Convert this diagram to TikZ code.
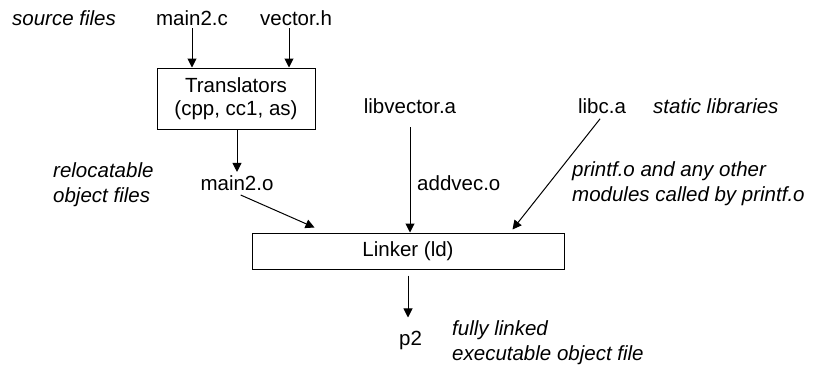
\documentclass[tikz,border=0pt]{standalone}
\usepackage{fontspec}
\setmainfont{Liberation Sans}
\usetikzlibrary{arrows.meta}

\begin{document}
\begin{tikzpicture}[x=1pt, y=-1pt,
            filenode/.style={anchor=base, inner sep=3pt, font=\fontsize{20.5}{23}\selectfont},
            notenode/.style={anchor=base west, align=left, inner sep=0pt, font=\fontsize{20.5}{25}\selectfont\itshape},
            toolbox/.style={draw, line width=1pt, align=center, inner sep=0pt, font=\fontsize{20.5}{23}\selectfont},
            flow/.style={line width=1pt, -{Triangle[length=9pt, width=9pt]}}
        ]
            \useasboundingbox (0,0) rectangle (814,367);

            % source files
            \node[notenode] (srcnote) at (12,25) {source files};
            \node[filenode] (mainc) at (192,25) {main2.c};
            \node[filenode] (vech) at (296,25) {vector.h};

            % translators
            \node[toolbox, minimum width=158pt, minimum height=61pt] (trans) at (236,98.5) {Translators\\(cpp, cc1, as)};
            \node[filenode] (maino) at (237,190) {main2.o};
            \node[notenode, anchor=west] (relnote) at (53,185) {relocatable\\object files};

            % static libraries
            \node[filenode] (libvec) at (410,113) {libvector.a};
            \node[filenode] (libc) at (602,113) {libc.a};
            \node[notenode] (libnote) at (653,113) {static libraries};
            \node[filenode, anchor=base west, inner sep=0pt] (addvec) at (417,190) {addvec.o};
            \node[notenode, anchor=west] (libcnote) at (572,184) {printf.o and any other\\modules called by printf.o};

            % linker and output
            \node[toolbox, minimum width=312pt, minimum height=36pt] (linker) at (408,251) {Linker (ld)};
            \node[filenode] (prog) at (410.5,345) {p2};
            \node[notenode, anchor=west] (prognote) at (452,343) {fully linked\\executable object file};

            % arrows
            \draw[flow] (mainc.south) -- (mainc.south |- trans.north);
            \draw[flow] ([xshift=-7pt]vech.south) -- ([xshift=-7pt]vech.south |- trans.north);
            \draw[flow] (trans.south -| maino.north) -- (maino.north);
            \draw[flow, shorten <=4pt] (maino.south) -- ([xshift=63pt, yshift=5pt]linker.north west);
            \draw[flow, shorten <=11pt] (libvec.south) -- (libvec.south |- linker.north);
            \draw[flow, shorten <=3pt] (libc.south) -- ([xshift=261pt, yshift=3pt]linker.north west);
            \draw[flow, shorten <=6pt, shorten >=10pt] (linker.south) -- (linker.south |- prog.north);

        \end{tikzpicture}
\end{document}
